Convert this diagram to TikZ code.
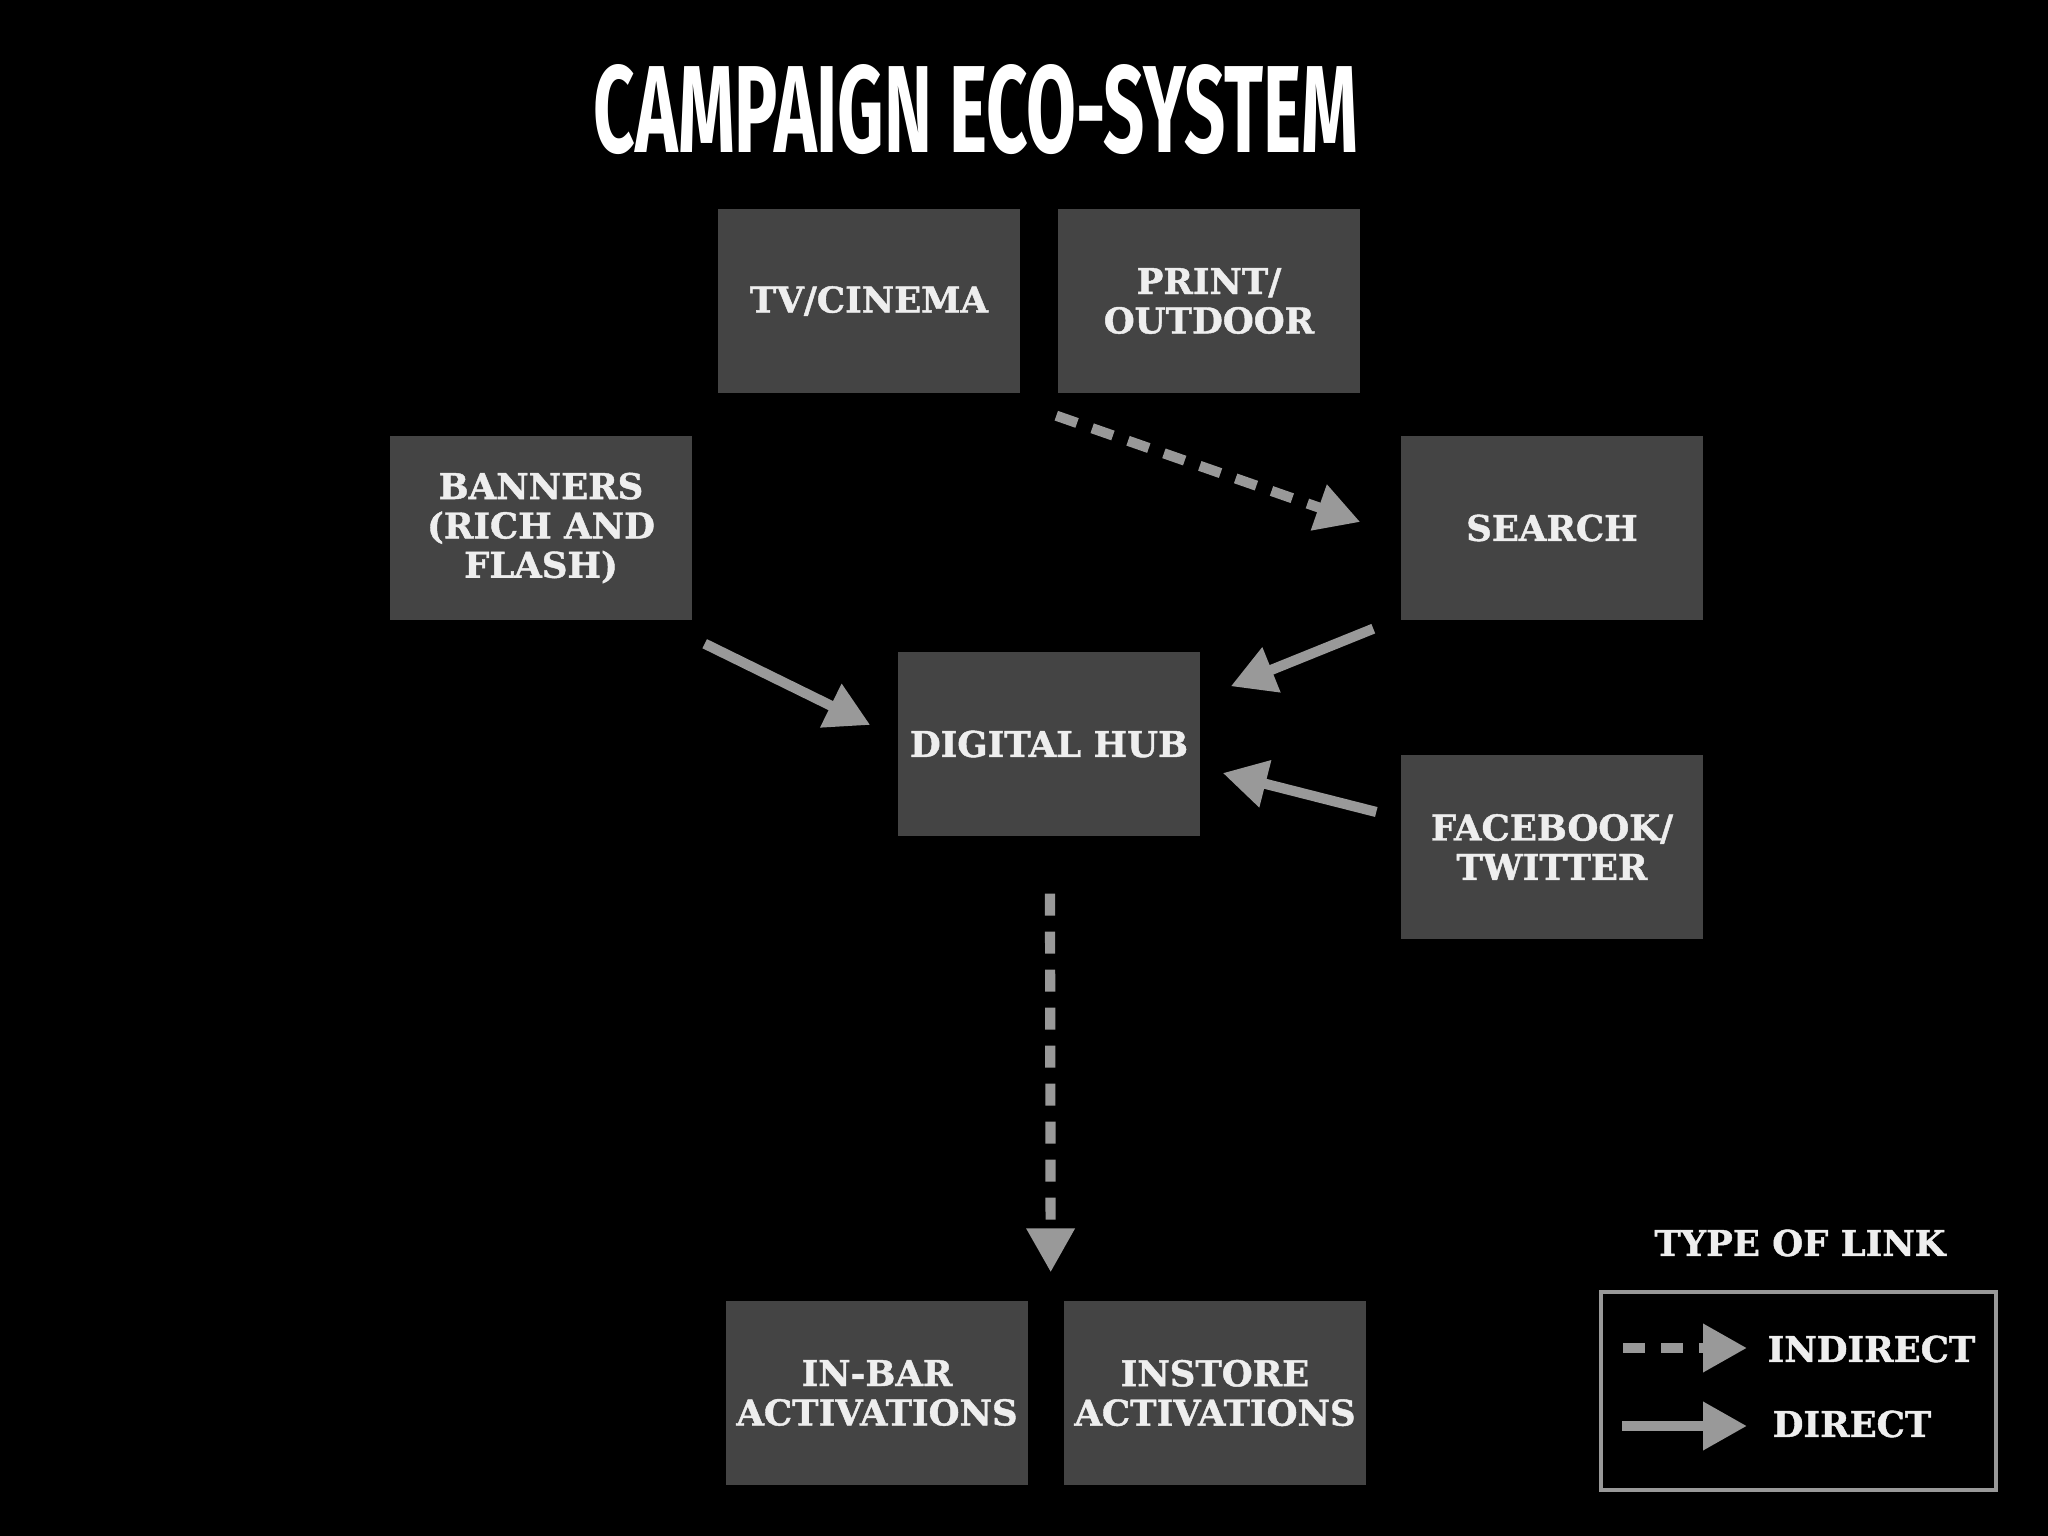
\documentclass[tikz,border=0pt]{standalone}
\usepackage{fontspec}
\setmainfont[BoldFeatures={FakeBold=1.2}]{DejaVu Serif}
\newfontfamily\titlefont{Fira Sans}
\usepackage{tikz}
\usetikzlibrary{arrows.meta}
\definecolor{boxgrey}{HTML}{444444}
\definecolor{linkgrey}{HTML}{999999}
\definecolor{labelgrey}{HTML}{EEEEEE}

\begin{document}
\begin{tikzpicture}[every node/.style={font=\bfseries\fontsize{10.1}{11.2}\selectfont,text=labelgrey},
  chan/.style={fill=boxgrey,minimum width=3.02cm,minimum height=1.84cm,inner sep=0pt,align=center},
  direct/.style={draw=linkgrey,line width=2.9pt,-{Triangle[length=0.44cm,width=0.46cm]}},
  indirect/.style={direct,dash pattern=on 0.22cm off 0.16cm},
  legbox/.style={draw=linkgrey,line width=1.3pt}]
\fill[black] (0,0) rectangle (20.48,-15.36);
\useasboundingbox (0,0) rectangle (20.48,-15.36);
%------------- title
\node[text=white] (title) at (9.76,-1.10) {\resizebox{7.64cm}{0.88cm}{\titlefont\bfseries CAMPAIGN ECO-SYSTEM}};
%------------- channels
\node[chan] (tv) at (8.69,-3.01) {TV/CINEMA};
\node[chan] (print) at (12.09,-3.01) {PRINT/\\OUTDOOR};
\node[chan] (banners) at (5.41,-5.28) {BANNERS\\(RICH AND\\FLASH)};
\node[chan] (search) at (15.52,-5.28) {SEARCH};
\node[chan] (hub) at (10.49,-7.44) {DIGITAL HUB};
\node[chan] (social) at (15.52,-8.47) {FACEBOOK/\\TWITTER};
\node[chan] (inbar) at (8.77,-13.93) {IN-BAR\\ACTIVATIONS};
\node[chan] (instore) at (12.15,-13.93) {INSTORE\\ACTIVATIONS};
%------------- links
\draw[indirect] ([shift={(-0.01,-0.22)}]print.south west) -- ([shift={(-0.40,0.06)}]search.west);
\draw[direct] ([shift={(0.12,-0.23)}]banners.south east) -- ([shift={(-0.27,0.19)}]hub.west);
\draw[direct] ([shift={(-0.27,-0.08)}]search.south west) -- ([shift={(0.30,-0.35)}]hub.north east);
\draw[direct] ([shift={(-0.24,0.35)}]social.west) -- ([shift={(0.22,-0.29)}]hub.east);
\draw[indirect] ([shift={(0.01,-0.57)}]hub.south) -- ([shift={(0.22,0.28)}]inbar.north east);
%------------- legend
\node (legtitle) at (18.00,-12.43) {TYPE OF LINK};
\draw[legbox] (16.01,-12.92) rectangle (19.96,-14.90);
\coordinate (ia) at (16.23,-13.48); \coordinate (ib) at (17.47,-13.48);
\coordinate (da) at (16.22,-14.26); \coordinate (db) at (17.47,-14.26);
\draw[indirect] (ia) -- (ib);
\draw[direct] (da) -- (db);
\node[anchor=west,inner sep=0pt] (indlab) at (17.67,-13.49) {INDIRECT};
\node[anchor=west,inner sep=0pt] (dirlab) at (17.72,-14.24) {DIRECT};
\end{tikzpicture}
\end{document}
